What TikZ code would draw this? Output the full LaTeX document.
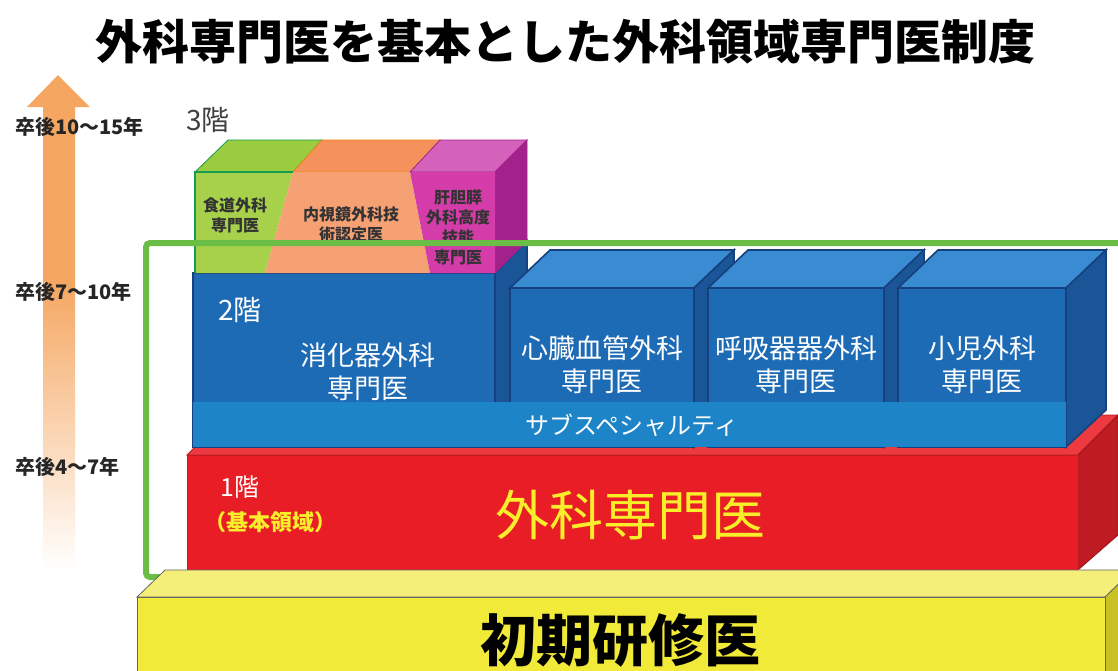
\documentclass[tikz,border=0pt]{standalone}
\usepackage{fontspec}
\newfontfamily\jpfont{Noto Sans CJK JP}
\usepackage[dvipsnames]{xcolor}
\usepackage{tikz}
\usetikzlibrary{calc, positioning}

\definecolor{ArrowOrange}{HTML}{F5A660}
\definecolor{FrameGreen}{HTML}{6BBE45}
\definecolor{BoxBlue}{HTML}{1E6BB5}
\definecolor{BoxBlueTop}{HTML}{3A8CD2}
\definecolor{BoxBlueSide}{HTML}{1A5598}
\definecolor{BoxEdge}{HTML}{17407E}
\definecolor{BarBlue}{HTML}{1D84C8}
\definecolor{BaseRed}{HTML}{E91D25}
\definecolor{BaseRedTop}{HTML}{EC3A40}
\definecolor{BaseRedSide}{HTML}{BE1B22}
\definecolor{InitYellow}{HTML}{F2EA38}
\definecolor{InitYellowTop}{HTML}{F4EF78}
\definecolor{InitYellowSide}{HTML}{C9C124}
\definecolor{TextYellow}{HTML}{F8EE2A}
\definecolor{EsoGreen}{HTML}{A7D04B}
\definecolor{EsoGreenTop}{HTML}{9BCB3E}
\definecolor{EndoOrange}{HTML}{F6A173}
\definecolor{EndoOrangeTop}{HTML}{F4915D}
\definecolor{HbpMagenta}{HTML}{D43DA9}
\definecolor{HbpMagentaTop}{HTML}{D462BA}
\definecolor{HbpMagentaSide}{HTML}{A2218B}

\begin{document}
\begin{tikzpicture}[x=0.5pt, y=-0.5pt,
    blueface/.style={fill=BoxBlue, draw=BoxEdge, line width=0.8pt},
    bluetop/.style={fill=BoxBlueTop, draw=BoxEdge, line width=0.8pt},
    blueside/.style={fill=BoxBlueSide, draw=BoxEdge, line width=0.8pt},
    floortxt/.style={text=white, font=\jpfont\fontsize{14}{16}\selectfont},
    spectxt/.style={text=white, align=center, font=\jpfont\fontsize{13.5}{16.5}\selectfont},
    smalltxt/.style={text=black!80, align=center, font=\jpfont\bfseries\fontsize{8}{10}\selectfont},
    yeartxt/.style={anchor=west, text=black!85, font=\jpfont\bfseries\fontsize{10}{12}\selectfont}]

            \useasboundingbox (0,0) rectangle (1118,670);
            \clip (0,0) rectangle (1118,670);
            \fill[white] (0,0) rectangle (1118,670);

            \node[font=\jpfont\bfseries\fontsize{23.5}{26}\selectfont] (title) at (565,42) {外科専門医を基本とした外科領域専門医制度};

            % === Years arrow ===
            \shade[top color=ArrowOrange, bottom color=white] (43,280) rectangle (75,570);
            \fill[ArrowOrange] (58,75) -- (90,107) -- (75,107) -- (75,281) -- (43,281) -- (43,107) -- (27,107) -- cycle;

            \node[yeartxt] (y15) at (8,127) {卒後10〜15年};
            \node[yeartxt] (y10) at (8,292) {卒後7〜10年};
            \node[yeartxt] (y7) at (8,467) {卒後4〜7年};

            % === 1st floor (red) ===
            \filldraw[fill=BaseRedTop, draw=BaseRedSide] (187,455) -- (227,415) -- (1118,415) -- (1078,455) -- cycle;
            \filldraw[fill=BaseRedSide, draw=BaseRedSide!80!black] (1078,455) -- (1118,415) -- (1118,535) -- (1078,570) -- cycle;
            \filldraw[fill=BaseRed, draw=BaseRedSide] (187,455) rectangle (1078,570);

            % === 2nd floor (blue) ===
            \filldraw[blueside] (495,273) -- (527,241) -- (527,447) -- (495,447) -- cycle;
            \filldraw[blueface] (193,273) rectangle (495,447);
            \foreach \xa/\xb in {510/694, 708/884, 898/1066} {
                \filldraw[bluetop] (\xa,288) -- (\xa+40,250) -- (\xb+40,250) -- (\xb,288) -- cycle;
                \filldraw[blueside] (\xb,288) -- (\xb+40,250) -- (\xb+40,410) -- (\xb,447) -- cycle;
                \filldraw[blueface] (\xa,288) rectangle (\xb,447);
            }
            \fill[BarBlue] (193,402) rectangle (1066,447);

            % === 3rd floor ===
            % top faces
            \filldraw[fill=EsoGreenTop, draw=ForestGreen] (195,172) -- (228,140) -- (322,140) -- (293,172) -- cycle;
            \filldraw[fill=EndoOrangeTop, draw=BurntOrange] (293,172) -- (322,140) -- (440,140) -- (410,172) -- cycle;
            \filldraw[fill=HbpMagentaTop, draw=HbpMagentaSide] (410,172) -- (440,140) -- (527,140) -- (495,172) -- cycle;
            \filldraw[fill=HbpMagentaSide, draw=HbpMagentaSide] (495,172) -- (527,140) -- (527,241) -- (495,273) -- cycle;
            % front faces
            \fill[EsoGreen] (195,172) -- (293,172) -- (265,273) -- (195,273) -- cycle;
            \fill[EndoOrange] (293,172) -- (410,172) -- (430,273) -- (265,273) -- cycle;
            \fill[HbpMagenta] (410,172) -- (495,172) -- (495,273) -- (430,273) -- cycle;
            \draw[ForestGreen, thick] (195,273) -- (195,172) -- (293,172);

            \node[smalltxt] (eso) at (235,215) {食道外科\\専門医};
            \node[smalltxt] (endo) at (351,224) {内視鏡外科技\\術認定医};
            \node[smalltxt] (hbp) at (458,227) {肝胆膵\\外科高度\\技能\\専門医};
            \node[font=\jpfont\fontsize{14}{16}\selectfont, text=black!75] (floor3) at (208,120) {3階};

            % === 2nd floor labels ===
            \node[floortxt] (floor2) at (240,310) {2階};
            \node[spectxt] (gi) at (368,372) {消化器外科\\専門医};
            \node[spectxt] (cv) at (602,365) {心臓血管外科\\専門医};
            \node[spectxt] (resp) at (796,365) {呼吸器器外科\\専門医};
            \node[spectxt] (ped) at (982,365) {小児外科\\専門医};
            \node[text=white, font=\jpfont\fontsize{12}{14}\selectfont] (subsp) at (632,425) {サブスペシャルティ};

            % === 1st floor labels ===
            \node[floortxt, font=\jpfont\fontsize{12.5}{14}\selectfont] (floor1) at (240,487) {1階};
            \node[text=TextYellow, font=\jpfont\bfseries\fontsize{11}{13}\selectfont] (basic) at (270,522) {（基本領域）};
            \node[text=TextYellow, font=\jpfont\fontsize{27}{30}\selectfont] (gensurg) at (630,515) {外科専門医};

            % === Frame round the specialist system ===
            \draw[FrameGreen, line width=3pt, rounded corners=2pt] (146,243) rectangle (1140,577);

            % === Initial training (yellow) ===
            \filldraw[fill=InitYellowTop, draw=black!60] (137,597) -- (165,570) -- (1133,570) -- (1105,597) -- cycle;
            \filldraw[fill=InitYellowSide, draw=black!60] (1105,597) -- (1133,570) -- (1133,680) -- (1105,680) -- cycle;
            \filldraw[fill=InitYellow, draw=black!60] (137,597) rectangle (1105,680);
            \node[font=\jpfont\bfseries\fontsize{28}{30}\selectfont] (init) at (620,640) {初期研修医};
        \end{tikzpicture}
\end{document}
